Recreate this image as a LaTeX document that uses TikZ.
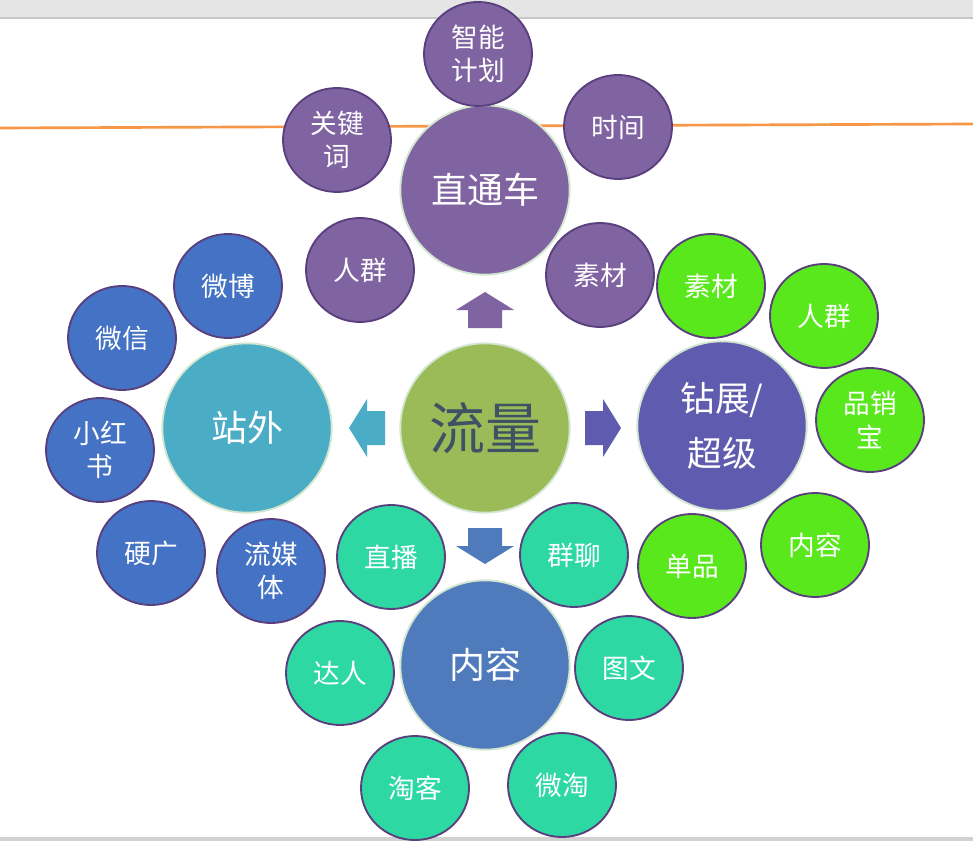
\documentclass[tikz,border=0pt]{standalone}
\usepackage{fontspec}
\setmainfont{Noto Sans CJK SC}
\usetikzlibrary{shapes.geometric}
\definecolor{ztc}{HTML}{8064A2}
\definecolor{zw}{HTML}{4BACC6}
\definecolor{zz}{HTML}{5F5BAE}
\definecolor{nr}{HTML}{4F7BBD}
\definecolor{ll}{HTML}{9BBB59}
\definecolor{bl}{HTML}{4472C4}
\definecolor{gr}{HTML}{58E81C}
\definecolor{te}{HTML}{2ED8A3}
\definecolor{sb}{HTML}{5A3F7E}
\definecolor{lb}{HTML}{D2E6D0}
\definecolor{og}{HTML}{F79646}
\definecolor{dt}{HTML}{3F5264}
\begin{document}
\begin{tikzpicture}[x=0.75pt,y=-0.75pt,
  sat/.style={ellipse,draw=sb,line width=1.4pt,minimum width=81pt,minimum height=78pt,inner sep=0pt,text=white,font=\fontsize{20}{25}\selectfont,align=center},
  hub/.style={circle,draw=lb,line width=1.4pt,minimum size=127pt,inner sep=0pt,text=white,font=\fontsize{27}{34}\selectfont,align=center}]
\useasboundingbox (0,0) rectangle (973,841);
\fill[white] (0,0) rectangle (973,841);
\fill[black!10] (0,0) rectangle (973,18);
\draw[black!22,line width=1pt] (0,18) -- (973,18);
\fill[black!18] (0,837) rectangle (973,841);
\coordinate (ol) at (0,128);
\coordinate (or) at (973,124);
\draw[og,line width=2pt] (ol) -- (or);
% hubs
\node[hub,fill=ztc] (ztc) at (485,190) {直通车};
\node[hub,fill=ll,text=dt,font=\fontsize{42}{48}\selectfont] (ll) at (485,428) {流量};
\node[hub,fill=zw] (zw) at (247,428) {站外};
\node[hub,fill=zz,font=\fontsize{26}{41}\selectfont] (zz) at (722,426) {钻展/\\超级};
\node[hub,fill=nr] (nr) at (485,665) {内容};
% purple satellites
\node[sat,fill=ztc] (s1) at (478,54) {智能\\计划};
\node[sat,fill=ztc] (s2) at (337,140) {关键\\词};
\node[sat,fill=ztc] (s3) at (618,127) {时间};
\node[sat,fill=ztc] (s4) at (360,270) {人群};
\node[sat,fill=ztc] (s5) at (600,275) {素材};
% blue satellites
\node[sat,fill=bl] (b1) at (228,286) {微博};
\node[sat,fill=bl] (b2) at (122,338) {微信};
\node[sat,fill=bl] (b3) at (100,450) {小红\\书};
\node[sat,fill=bl] (b4) at (151,553) {硬广};
\node[sat,fill=bl] (b5) at (271,571) {流媒\\体};
% green satellites
\node[sat,fill=gr] (g1) at (711,286) {素材};
\node[sat,fill=gr] (g2) at (824,316) {人群};
\node[sat,fill=gr] (g3) at (870,420) {品销\\宝};
\node[sat,fill=gr] (g4) at (815,545) {内容};
\node[sat,fill=gr] (g5) at (692,566) {单品};
% teal satellites
\node[sat,fill=te] (t1) at (391,557) {直播};
\node[sat,fill=te] (t2) at (574,555) {群聊};
\node[sat,fill=te] (t3) at (340,673) {达人};
\node[sat,fill=te] (t4) at (629,668) {图文};
\node[sat,fill=te] (t5) at (415,788) {淘客};
\node[sat,fill=te] (t6) at (562,785) {微淘};
% block arrows
\fill[ztc] (485,292) -- (514,310) -- (502,310) -- (502,328) -- (468,328) -- (468,310) -- (456,310) -- cycle;
\fill[nr] (485,564) -- (514,546) -- (502,546) -- (502,528) -- (468,528) -- (468,546) -- (456,546) -- cycle;
\fill[zw] (349,428) -- (367,399) -- (367,411) -- (385,411) -- (385,445) -- (367,445) -- (367,457) -- cycle;
\fill[zz] (621,428) -- (603,399) -- (603,411) -- (585,411) -- (585,445) -- (603,445) -- (603,457) -- cycle;
\end{tikzpicture}
\end{document}
